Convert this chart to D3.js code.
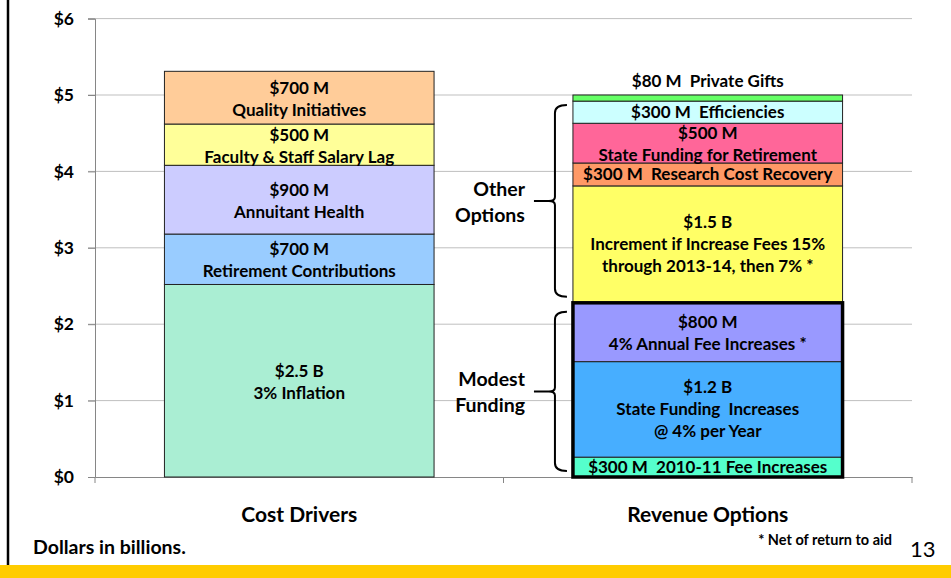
<!DOCTYPE html>
<html>
<head>
<meta charset="utf-8">
<script src="https://cdn.jsdelivr.net/npm/d3@7"></script>
<style>
  body { margin: 0; background: #fff; }
  svg text { font-family: Lato, "Open Sans", sans-serif; font-weight: bold; fill: #000; white-space: pre; }
</style>
</head>
<body>
<svg id="chart" width="951" height="578"></svg>
<script>
// categories on the x axis
var categories = ["Cost Drivers", "Revenue Options"];
var yTicks = [0, 1, 2, 3, 4, 5, 6];

// cost drivers, bottom to top (billions)
var costValues = [2.52, 0.66, 0.90, 0.54, 0.69];
var costLabels = [
  ["$2.5 B", "3% Inflation"],
  ["$700 M", "Retirement Contributions"],
  ["$900 M", "Annuitant Health"],
  ["$500 M", "Faculty & Staff Salary Lag"],
  ["$700 M", "Quality Initiatives"]
];
var costColors = ["#AAEED3", "#99CCFF", "#CCCCFF", "#FFFF99", "#FFCC99"];

// revenue options, bottom to top (billions)
var revValues = [0.26, 1.25, 0.77, 1.53, 0.30, 0.52, 0.29, 0.08];
var revLabels = [
  ["$300 M  2010-11 Fee Increases"],
  ["$1.2 B", "State Funding  Increases", "@ 4% per Year"],
  ["$800 M", "4% Annual Fee Increases *"],
  ["$1.5 B", "Increment if Increase Fees 15%", "through 2013-14, then 7% *"],
  ["$300 M  Research Cost Recovery"],
  ["$500 M", "State Funding for Retirement"],
  ["$300 M  Efficiencies"],
  ["$80 M  Private Gifts"]
];
var revColors = ["#55FFCC", "#47AEFF", "#9999FF", "#FFFF66", "#FF9966", "#FF6699", "#CCFFFF", "#66FF66"];

// bracket groups over the revenue bar (segment index ranges)
var groups = [
  {name: ["Modest", "Funding"], from: 0, to: 2},
  {name: ["Other", "Options"], from: 3, to: 6}
];

var svg = d3.select("#chart");
var margin = {left: 95, right: 39, top: 18.6, bottom: 101};
var W = 951, H = 578;

var x = d3.scaleBand().domain(categories).range([margin.left, W - margin.right]).padding(0);
var y = d3.scaleLinear().domain([0, 6]).range([H - margin.bottom, margin.top]);
var barW = x.bandwidth() * 0.66;

// gridlines
svg.append("g")
  .selectAll("line")
  .data(yTicks.filter(d => d > 0))
  .enter().append("line")
  .attr("x1", margin.left - 7).attr("x2", W - margin.right)
  .attr("y1", d => y(d)).attr("y2", d => y(d))
  .style("stroke", "#BFBFBF").style("stroke-width", 1);

// y axis
var yAxis = svg.append("g")
  .attr("transform", `translate(${margin.left},0)`)
  .call(d3.axisLeft(y).tickValues(yTicks).tickSize(7).tickPadding(14).tickFormat(d => "$" + d));
yAxis.select(".domain").style("stroke", "#868686");
yAxis.selectAll(".tick line").style("stroke", "#868686");
yAxis.selectAll("text").style("font-size", "17.5px").style("font-family", "Lato, sans-serif").style("font-weight", "bold").attr("fill", "#000");

// x axis
var xAxis = svg.append("g")
  .attr("transform", `translate(0,${y(0)})`)
  .call(d3.axisBottom(x).tickSize(0).tickPadding(30));
xAxis.select(".domain").style("stroke", "#868686");
xAxis.selectAll("text").style("font-size", "21px").style("font-family", "Lato, sans-serif").style("font-weight", "bold").attr("fill", "#000");
// category boundary ticks
svg.append("g").selectAll("line")
  .data([x.range()[0], x.range()[0] + x.step(), x.range()[1]])
  .enter().append("line")
  .attr("x1", d => d).attr("x2", d => d)
  .attr("y1", y(0)).attr("y2", y(0) + 6)
  .style("stroke", "#868686");

function stack(vals) {
  var acc = 0;
  return vals.map(function(v, i) { var s = {i: i, y0: acc, y1: acc + v}; acc += v; return s; });
}

function drawBar(cat, vals, labels, colors) {
  var segs = stack(vals);
  var x0 = x(cat) + (x.bandwidth() - barW) / 2;
  var cx = x(cat) + x.bandwidth() / 2;
  var g = svg.append("g");
  g.selectAll("rect")
    .data(segs)
    .enter().append("rect")
    .attr("x", x0).attr("width", barW)
    .attr("y", d => y(d.y1)).attr("height", d => y(d.y0) - y(d.y1))
    .attr("fill", d => colors[d.i])
    .style("stroke", "#222").style("stroke-width", 1);
  var lh = 22;
  segs.forEach(function(s) {
    var lines = labels[s.i];
    var hgt = y(s.y0) - y(s.y1);
    var mid = (y(s.y0) + y(s.y1)) / 2;
    if (hgt < 12) mid = y(s.y1) - 14; // too thin, put it above the bar
    else if (lines.length === 2) mid += 1;
    lines.forEach(function(t, k) {
      g.append("text")
        .attr("x", cx)
        .attr("y", mid + (k - (lines.length - 1) / 2) * lh)
        .attr("dy", "0.35em")
        .attr("text-anchor", "middle")
        .style("font-size", "17px")
        .text(t);
    });
  });
  return {segs: segs, x0: x0};
}

drawBar(categories[0], costValues, costLabels, costColors);
var rev = drawBar(categories[1], revValues, revLabels, revColors);

// heavy outline around modest funding block
var mg = groups[0];
svg.append("rect")
  .attr("x", rev.x0).attr("width", barW)
  .attr("y", y(rev.segs[mg.to].y1))
  .attr("height", y(rev.segs[mg.from].y0) - y(rev.segs[mg.to].y1))
  .attr("fill", "none")
  .style("stroke", "#000").style("stroke-width", 3.5);

// brackets
var bx = rev.x0 - 18;
groups.forEach(function(gr) {
  var top = y(rev.segs[gr.to].y1) + (gr.from === 0 ? 9 : 4);
  var bot = y(rev.segs[gr.from].y0) - 6;
  var mid = (top + bot) / 2;
  var p = d3.path();
  p.moveTo(bx + 12, top);
  p.quadraticCurveTo(bx, top, bx, top + 8);
  p.lineTo(bx, mid - 4);
  p.quadraticCurveTo(bx, mid, bx - 6, mid);
  p.lineTo(bx - 21, mid);
  p.moveTo(bx - 6, mid);
  p.quadraticCurveTo(bx, mid, bx, mid + 4);
  p.lineTo(bx, bot - 8);
  p.quadraticCurveTo(bx, bot, bx + 12, bot);
  svg.append("path").attr("d", p.toString())
    .attr("fill", "none").style("stroke", "#000").style("stroke-width", 2);
  gr.name.forEach(function(t, k) {
    svg.append("text")
      .attr("x", bx - 30)
      .attr("y", mid - 12 + k * 26)
      .attr("dy", "0.35em")
      .attr("text-anchor", "end")
      .style("font-size", "19.5px")
      .text(t);
  });
});

// footer notes
svg.append("text").attr("x", 33).attr("y", 547).attr("dy", "0.35em")
  .style("font-size", "19.5px").text("Dollars in billions.");
svg.append("text").attr("x", 892).attr("y", 540).attr("dy", "0.35em")
  .attr("text-anchor", "end").style("font-size", "14.5px").text("* Net of return to aid");
svg.append("text").attr("x", 910).attr("y", 557)
  .style("font-size", "22px").style("font-weight", "normal").style("font-family", "Lato, sans-serif").text("13");

// slide frame
svg.append("line").attr("x1", 8).attr("x2", 8).attr("y1", 0).attr("y2", 565)
  .style("stroke", "#000").style("stroke-width", 2.5);
svg.append("rect").attr("x", 0).attr("y", 565).attr("width", W).attr("height", H - 565)
  .attr("fill", "#FFCC00");
</script>
</body>
</html>
